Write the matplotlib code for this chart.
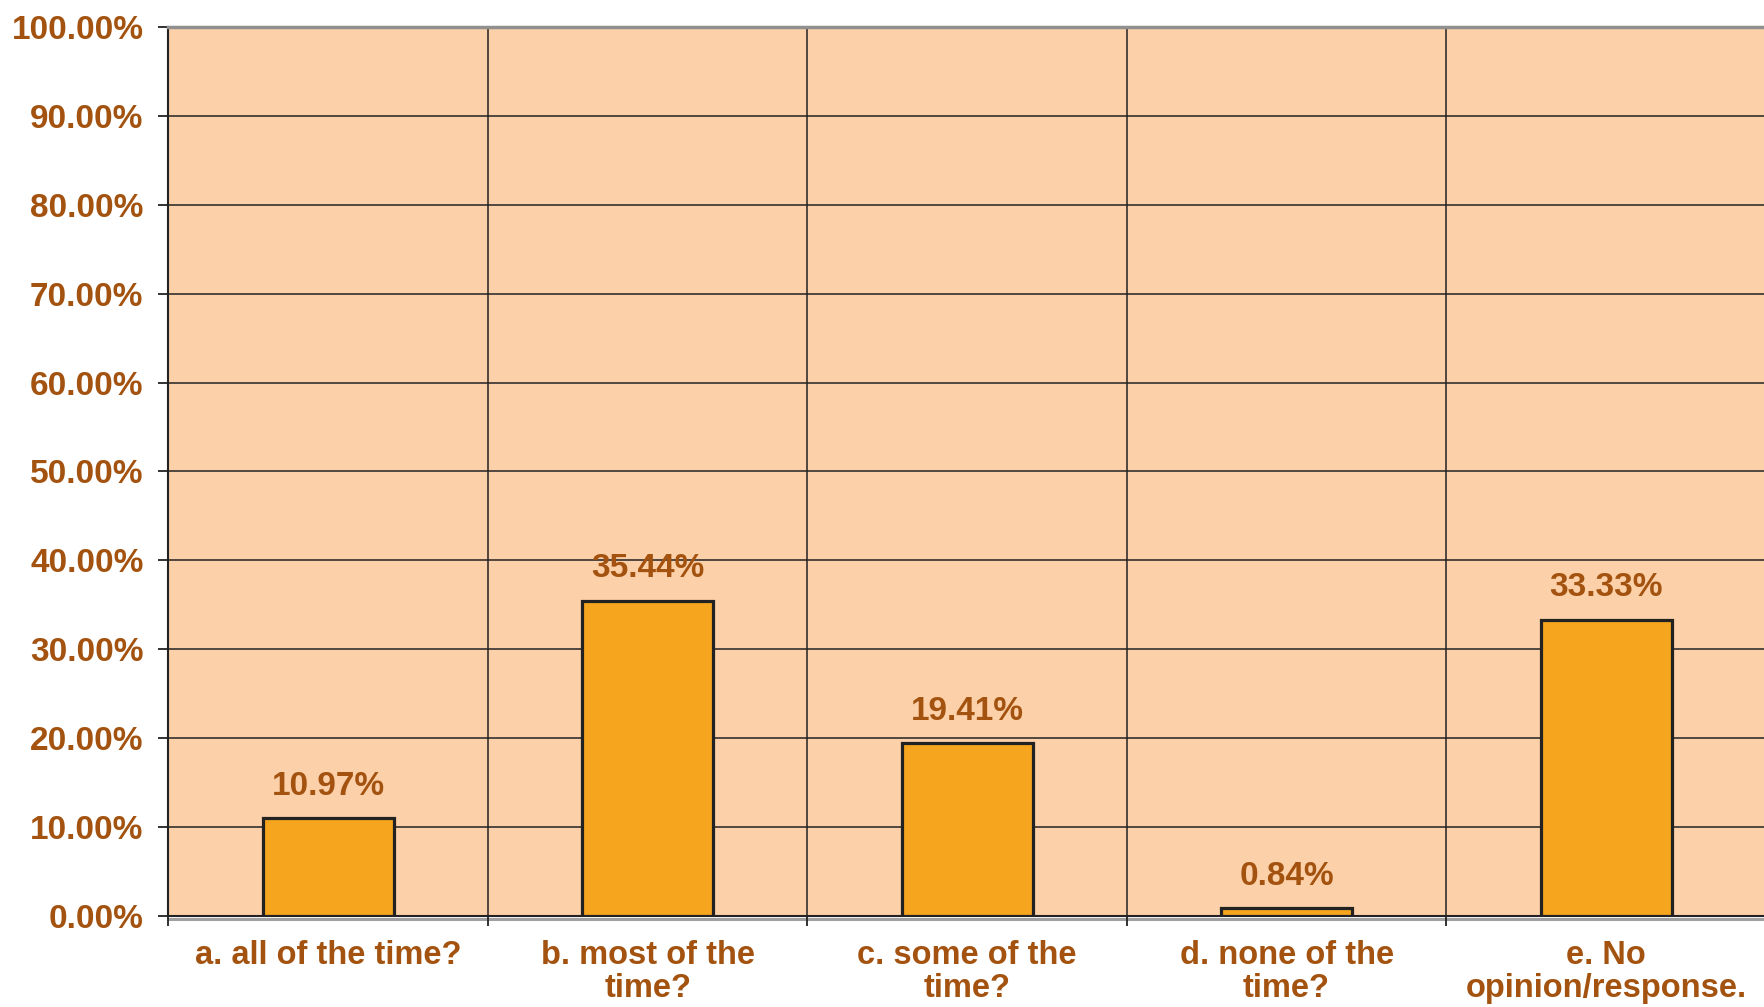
import matplotlib
matplotlib.use("Agg")
import matplotlib.pyplot as plt
import matplotlib.transforms as mtransforms
import numpy as np

# Survey answers and their shares (percent)
categories = [
    "a. all of the time?",
    "b. most of the\ntime?",
    "c. some of the\ntime?",
    "d. none of the\ntime?",
    "e. No\nopinion/response.",
]
values = [10.97, 35.44, 19.41, 0.84, 33.33]
y_ticks = [0, 10, 20, 30, 40, 50, 60, 70, 80, 90, 100]

TEXT = "#A3530F"
BG = "#FCD0A8"
BAR = "#F5A61E"
EDGE = "#222222"

plt.rcParams["font.family"] = ["Liberation Sans", "DejaVu Sans"]
plt.rcParams["font.weight"] = "bold"

fig = plt.figure(figsize=(17.64, 10.07), dpi=100)
ax = fig.add_axes([0.0955, 0.0904, 0.9055, 0.8828])
ax.set_facecolor(BG)

x = np.arange(len(categories))
bars = ax.bar(x, values, width=0.41, color=BAR, edgecolor=EDGE, linewidth=2.3, zorder=3)

for rect, v in zip(bars, values):
    ax.annotate(
        f"{v:.2f}%",
        xy=(rect.get_x() + rect.get_width() / 2, rect.get_height()),
        xytext=(0, 12),
        textcoords="offset points",
        ha="center",
        va="bottom",
        fontsize=24,
        fontweight="bold",
        color=TEXT,
        zorder=4,
    )

ax.set_xlim(-0.5, len(categories) - 0.5)
ax.set_ylim(0, 100)

# y axis
ax.set_yticks(y_ticks)
ax.set_yticklabels([f"{t:.2f}%" for t in y_ticks])
ax.tick_params(axis="y", direction="out", length=7, width=1.3, color=EDGE,
               labelsize=24, labelcolor=TEXT, pad=11)

# x axis: labels at centres, tick marks at category boundaries
ax.set_xticks(x)
ax.set_xticklabels(categories, fontsize=23.5, color=TEXT, linespacing=1.12)
ax.tick_params(axis="x", which="major", length=0, pad=17)
ax.set_xticks(np.arange(-0.5, len(categories) + 0.5, 1.0), minor=True)
ax.tick_params(axis="x", which="minor", direction="out", length=7, width=1.3, color=EDGE)

# grid
ax.grid(axis="y", which="major", color=EDGE, linewidth=1.1, zorder=1)
ax.grid(axis="x", which="minor", color=EDGE, linewidth=1.1, zorder=1)
ax.set_axisbelow(True)

ax.spines["right"].set_visible(False)
ax.spines["top"].set_color("#909090")
ax.spines["top"].set_linewidth(2.5)
ax.spines["left"].set_color(EDGE)
ax.spines["left"].set_linewidth(1.5)
ax.spines["bottom"].set_color(EDGE)
ax.spines["bottom"].set_linewidth(1.5)

# grey shadow just under the bottom axis line
shadow = mtransforms.offset_copy(ax.transAxes, fig=fig, y=-2.2, units="points")
ax.plot([0, 1], [0, 0], transform=shadow, color="#A0A0A0", linewidth=2.2,
        clip_on=False, zorder=0)

fig.savefig("out.png", dpi=100, facecolor="white")
